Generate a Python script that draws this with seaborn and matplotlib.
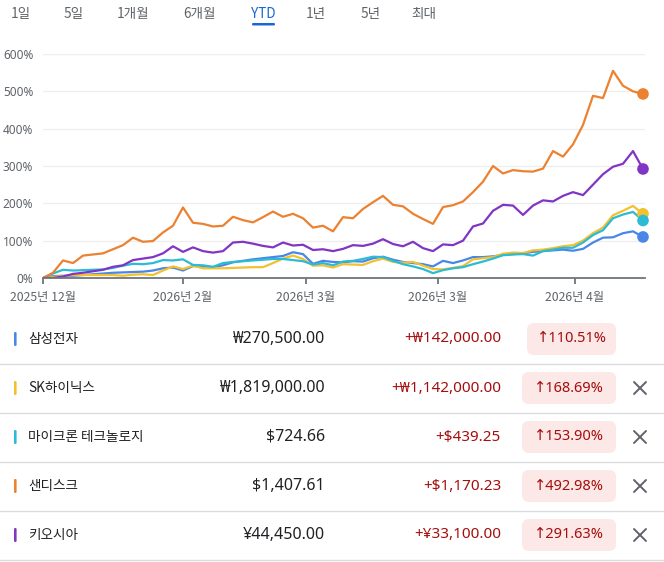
import pandas as pd
import matplotlib.pyplot as plt
import seaborn as sns
from matplotlib.patches import FancyBboxPatch

sns.set_theme(style="white")
plt.rcParams['font.family'] = ['Noto Sans CJK KR', 'DejaVu Sans']
NUM_FONT = ['Noto Sans', 'DejaVu Sans']

# ---- data (percent change since start) ----
names = ["삼성전자", "SK하이닉스", "마이크론 테크놀로지", "샌디스크", "키오시아"]
colors = ["#4a86e8", "#f2c12e", "#2bbbd4", "#ec8130", "#8035c4"]

samsung = [0, 5, 6, 6, 8, 10, 12, 14, 15, 16, 17, 20, 26, 28, 20, 32, 31, 29, 34, 42,
           46, 50, 53, 56, 59, 69, 64, 38, 46, 43, 42, 45, 44, 53, 57, 49, 43, 40, 37, 31,
           46, 40, 47, 56, 56, 58, 62, 64, 66, 70, 72, 74, 76, 73, 78, 95, 108, 109, 120, 125,
           110]
skhynix = [0, 3, 5, 8, 8, 8, 8, 8, 6, 9, 10, 8, 20, 31, 24, 33, 26, 26, 26, 27,
           28, 29, 29, 40, 52, 60, 51, 33, 34, 28, 37, 36, 35, 45, 52, 43, 41, 43, 33, 24,
           23, 27, 32, 50, 53, 56, 65, 68, 67, 74, 76, 80, 85, 88, 100, 120, 135, 168, 180, 193,
           172]
micron = [0, 12, 22, 20, 21, 22, 23, 27, 33, 38, 37, 40, 48, 47, 50, 35, 34, 30, 40, 43,
          45, 47, 49, 51, 51, 48, 45, 36, 40, 34, 44, 46, 51, 57, 56, 46, 37, 31, 24, 13,
          21, 26, 29, 37, 44, 52, 61, 63, 64, 60, 72, 76, 81, 81, 95, 115, 128, 160, 170, 177,
          154]
sandisk = [0, 14, 47, 40, 60, 63, 66, 77, 88, 108, 97, 99, 122, 140, 189, 148, 145, 138, 140, 164,
           155, 149, 163, 178, 164, 172, 160, 135, 140, 125, 163, 160, 185, 203, 220, 196, 192, 172, 158, 145,
           190, 195, 205, 230, 258, 300, 280, 289, 286, 285, 293, 340, 325, 358, 410, 488, 482, 555, 515, 500,
           493]
kioxia = [0, 0, 4, 11, 14, 18, 22, 30, 34, 48, 52, 56, 66, 85, 70, 82, 72, 68, 72, 95,
          97, 92, 86, 82, 95, 87, 89, 75, 77, 72, 78, 88, 86, 92, 104, 91, 85, 97, 80, 72,
          90, 88, 100, 138, 146, 180, 196, 194, 169, 194, 208, 205, 220, 230, 222, 250, 278, 298, 306, 340,
          292]

tick_pos = [0, 14.0, 26.3, 39.5, 53.2]
tick_labels = ["2025년 12월", "2026년 2월", "2026년 3월", "2026년 3월", "2026년 4월"]
y_ticks = [0, 100, 200, 300, 400, 500, 600]

tabs = ["1일", "5일", "1개월", "6개월", "YTD", "1년", "5년", "최대"]
prices = ["₩270,500.00", "₩1,819,000.00", "$724.66", "$1,407.61", "¥44,450.00"]
changes = ["+₩142,000.00", "+₩1,142,000.00", "+$439.25", "+$1,170.23", "+¥33,100.00"]
pcts = ["↑110.51%", "↑168.69%", "↑153.90%", "↑492.98%", "↑291.63%"]

series = [samsung, skhynix, micron, sandisk, kioxia]
rows = []
for name, vals in zip(names, series):
    for i, v in enumerate(vals):
        rows.append({"idx": i, "pct": v, "name": name})
df = pd.DataFrame(rows)
last = df.groupby("name", sort=False).tail(1)
palette = dict(zip(names, colors))

W, H = 664, 562
fig = plt.figure(figsize=(W / 100, H / 100), dpi=100)
fig.patch.set_facecolor("white")

# ---- chart ----
ax = fig.add_axes([43 / W, 1 - 278 / H, 602 / W, 224 / H])
sns.lineplot(data=df, x="idx", y="pct", hue="name", palette=palette,
             linewidth=1.6, legend=False, ax=ax)
sns.scatterplot(data=last, x="idx", y="pct", hue="name", palette=palette,
                s=70, edgecolor="none", legend=False, ax=ax, clip_on=False, zorder=5)
ax.set_xlim(0, 60.2)
ax.set_ylim(0, 600)
ax.set_yticks(y_ticks)
ax.set_yticklabels([f"{t}%" for t in y_ticks], family=NUM_FONT)
ax.set_xticks(tick_pos)
ax.set_xticklabels(tick_labels)
ax.set_xlabel("")
ax.set_ylabel("")
for s in ["top", "right", "left"]:
    ax.spines[s].set_visible(False)
ax.spines["bottom"].set_color("#70757a")
ax.spines["bottom"].set_linewidth(1.3)
ax.grid(axis="y", color="#eeeeee", linewidth=0.9)
ax.set_axisbelow(True)
ax.tick_params(axis="y", length=0, pad=7, labelsize=8.5, labelcolor="#5f6368")
ax.tick_params(axis="x", length=4, width=1.3, color="#70757a", pad=5,
               labelsize=8.8, labelcolor="#5f6368", bottom=True)

# ---- overlay in pixel coordinates ----
ov = fig.add_axes([0, 0, 1, 1])
ov.set_xlim(0, W)
ov.set_ylim(H, 0)
ov.axis("off")
ov.patch.set_visible(False)

tab_x = [21, 74, 133, 199, 263, 316, 371, 424]
for t, x in zip(tabs, tab_x):
    c = "#1a67d2" if t == "YTD" else "#5f6368"
    ov.text(x, 14, t, ha="center", va="center", fontsize=9.8, color=c)
ov.add_patch(FancyBboxPatch((252, 23), 23, 2.5, boxstyle="round,pad=0,rounding_size=1.2",
                            facecolor="#1a67d2", edgecolor="none"))

row_y = [339, 388, 437, 486, 535]
for i, y in enumerate(row_y):
    ov.add_patch(FancyBboxPatch((14, y - 7), 2.6, 14, boxstyle="round,pad=0,rounding_size=1.2",
                                facecolor=colors[i], edgecolor="none"))
    ov.text(28, y, names[i], ha="left", va="center", fontsize=9.8, color="#202124")
    ov.text(325, y, prices[i], ha="right", va="center", fontsize=11.5,
            color="#202124", family=NUM_FONT)
    ov.text(501, y, changes[i], ha="right", va="center", fontsize=11,
            color="#a50e0e", family=NUM_FONT)
    bx0 = 527 if i == 0 else 522
    ov.add_patch(FancyBboxPatch((bx0, y - 16), 616 - bx0, 32,
                                boxstyle="round,pad=0,rounding_size=7",
                                facecolor="#fce8e6", edgecolor="none"))
    ov.text((bx0 + 616) / 2, y, pcts[i], ha="center", va="center", fontsize=10.5,
            color="#a50e0e", family=NUM_FONT)
    if i > 0:
        ov.plot([634, 646], [y - 6, y + 6], color="#5f6368", lw=1.4)
        ov.plot([634, 646], [y + 6, y - 6], color="#5f6368", lw=1.4)
    ov.plot([0, W], [y + 25, y + 25], color="#dadce0", lw=1)

fig.savefig("out.png", dpi=100)
